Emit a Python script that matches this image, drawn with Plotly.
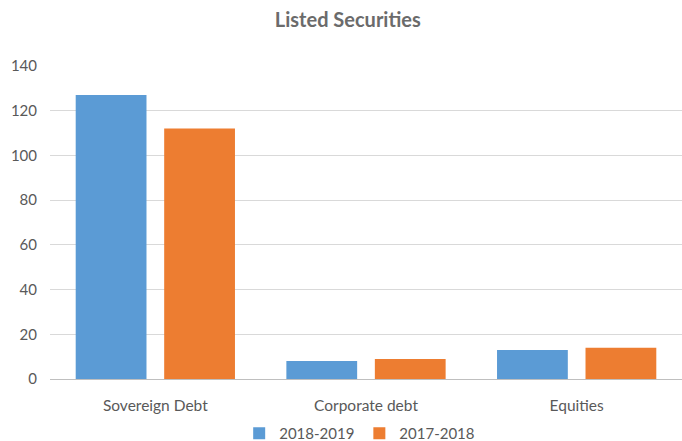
import plotly.graph_objects as go

categories = ["Sovereign Debt", "Corporate debt", "Equities"]
series_names = ["2018-2019", "2017-2018"]
values_2018_2019 = [127, 8, 13]
values_2017_2018 = [112, 9, 14]
y_ticks = [0, 20, 40, 60, 80, 100, 120, 140]

fig = go.Figure()
fig.add_trace(go.Bar(name=series_names[0], x=categories, y=values_2018_2019,
                     marker=dict(color="#5B9BD5", line=dict(width=0))))
fig.add_trace(go.Bar(name=series_names[1], x=categories, y=values_2017_2018,
                     marker=dict(color="#ED7D31", line=dict(width=0))))

fig.update_layout(
    width=682, height=441,
    paper_bgcolor="white", plot_bgcolor="white",
    margin=dict(l=50, r=0, t=66, b=62, autoexpand=False),
    barmode="group", bargap=0.16, bargroupgap=0.2,
    font=dict(family="Lato", color="#595959", size=15),
    title=dict(text="<b>Listed Securities</b>", x=0.51, xanchor="center",
               y=0.955, yanchor="middle",
               font=dict(family="Lato", size=20, color="#6B6B6B")),
    showlegend=True,
    legend=dict(orientation="h", x=0.49, xanchor="center", y=0.017, yanchor="middle",
                yref="container", font=dict(size=15, color="#595959"),
                itemwidth=30, traceorder="normal"),
    xaxis=dict(showgrid=False, showline=True, linecolor="#BFBFBF", linewidth=1,
               ticks="", automargin=False, ticklabelstandoff=12,
               tickfont=dict(size=15.5, color="#595959")),
    yaxis=dict(range=[0, 140], tickvals=y_ticks, showgrid=True, gridcolor="#D9D9D9",
               gridwidth=1, zeroline=False, showline=False, ticks="", automargin=False,
               ticklabelstandoff=12,
               tickfont=dict(size=15, color="#595959")),
)

fig.write_html("out.html", config={"displayModeBar": False},
               post_script="document.body.style.margin='0';document.body.style.overflow='hidden';")
